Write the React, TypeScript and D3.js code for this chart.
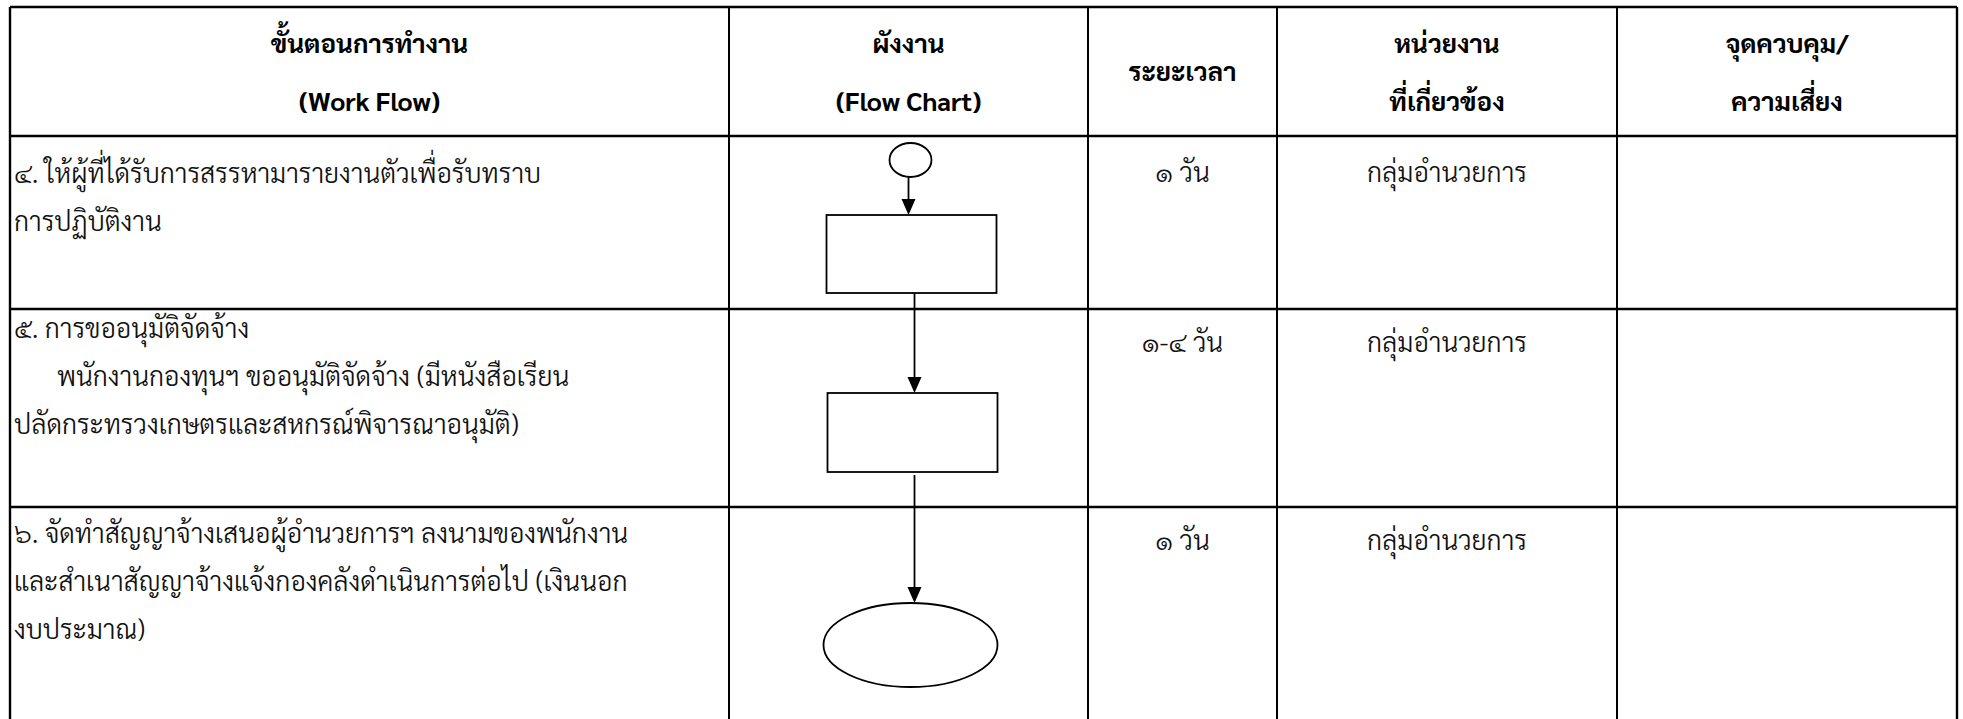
import React from "react";
import * as d3 from "d3";

// ---------- data ----------
const headerLines: string[][] = [
  ["ขั้นตอนการทำงาน", "(Work Flow)"],
  ["ผังงาน", "(Flow Chart)"],
  ["ระยะเวลา"],
  ["หน่วยงาน", "ที่เกี่ยวข้อง"],
  ["จุดควบคุม/", "ความเสี่ยง"],
];
const stepLines: string[][] = [
  ["๔. ให้ผู้ที่ได้รับการสรรหามารายงานตัวเพื่อรับทราบ", "การปฏิบัติงาน"],
  ["๕. การขออนุมัติจัดจ้าง", "พนักงานกองทุนฯ ขออนุมัติจัดจ้าง (มีหนังสือเรียน", "ปลัดกระทรวงเกษตรและสหกรณ์พิจารณาอนุมัติ)"],
  ["๖. จัดทำสัญญาจ้างเสนอผู้อำนวยการฯ ลงนามของพนักงาน", "และสำเนาสัญญาจ้างแจ้งกองคลังดำเนินการต่อไป (เงินนอก", "งบประมาณ)"],
];
const durations: string[] = ["๑ วัน", "๑-๔ วัน", "๑ วัน"];
const units: string[] = ["กลุ่มอำนวยการ", "กลุ่มอำนวยการ", "กลุ่มอำนวยการ"];
const controls: string[] = ["", "", ""];
const shapes: string[] = ["process", "process", "terminal"];

// ---------- layout ----------
const W = 1963;
const H = 719;
const colEdges = [10, 729, 1088, 1277, 1617, 1957];
const rowEdges = [7, 136, 309, 507, 760];
const FONT = "'Sarabun','Noto Sans Thai','Noto Sans Thai UI','Loma','Garuda','Tlwg Typo',sans-serif";

export default function App() {
  const colX = d3.scaleOrdinal<number, number>().domain(d3.range(colEdges.length)).range(colEdges);
  const rowY = d3.scaleOrdinal<number, number>().domain(d3.range(rowEdges.length)).range(rowEdges);
  const colMid = (i: number) => (colX(i) + colX(i + 1)) / 2;

  const fcX = colMid(1);
  const arrowHead = (x: number, yTip: number) =>
    d3.line()([[x - 7, yTip - 16], [x + 7, yTip - 16], [x, yTip]]) + "Z";

  // flowchart geometry (derived from rows)
  const r1 = rowY(1), r2 = rowY(2), r3 = rowY(3);
  const startC = { x: fcX + 2, y: r1 + 24, rx: 21, ry: 17 };
  const box1 = { x: fcX - 82, y: r1 + 79, w: 170, h: 78 };
  const box2 = { x: fcX - 81, y: r2 + 84, w: 170, h: 79 };
  const term = { x: fcX + 2, y: r3 + 138, rx: 87, ry: 42 };
  const lineX = fcX + 6;

  const stepBase = [183, 338, 543];
  const sideBase = [182, 352, 550];
  const lineGap = 48;

  return (
    <svg width={W} height={H} style={{ display: "block", position: "absolute", left: 0, top: 0, background: "#fff" }}>
      <rect x={0} y={0} width={W} height={H} fill="#fff" />
      {/* grid */}
      <g stroke="#000">
        {rowEdges.map((y, i) => (
          <line key={"h" + i} x1={colEdges[0]} x2={colEdges[colEdges.length - 1]} y1={y} y2={y} strokeWidth={2.6} />
        ))}
        {colEdges.map((x, i) => (
          <line key={"v" + i} x1={x} x2={x} y1={rowEdges[0]} y2={H + 5} strokeWidth={i === 0 || i === colEdges.length - 1 ? 2.4 : 2} />
        ))}
      </g>
      {/* headers */}
      <g fontFamily={FONT} fontWeight={700} fontSize={26} fill="#000" textAnchor="middle">
        {headerLines.map((lines, ci) =>
          lines.map((t, li) => (
            <text key={ci + "-" + li} x={colMid(ci)} y={lines.length === 1 ? 81 : 53 + li * 58}>
              {t}
            </text>
          ))
        )}
      </g>
      {/* step texts */}
      <g fontFamily={FONT} fontSize={26.5} fontWeight={300} fill="#111">
        {stepLines.map((lines, ri) =>
          lines.map((t, li) => (
            <text key={ri + "-" + li} x={ri === 1 && li === 1 ? 57 : 14} y={stepBase[ri] + li * lineGap}>
              {t}
            </text>
          ))
        )}
      </g>
      <g fontFamily={FONT} fontSize={26.5} fontWeight={300} fill="#111" textAnchor="middle">
        {durations.map((t, i) => (
          <text key={"d" + i} x={colMid(2)} y={sideBase[i]}>{t}</text>
        ))}
        {units.map((t, i) => (
          <text key={"u" + i} x={colMid(3)} y={sideBase[i]}>{t}</text>
        ))}
        {controls.map((t, i) => (
          <text key={"c" + i} x={colMid(4)} y={sideBase[i]}>{t}</text>
        ))}
      </g>
      {/* flowchart */}
      <g stroke="#000" fill="none" strokeWidth={1.8}>
        <ellipse cx={startC.x} cy={startC.y} rx={startC.rx} ry={startC.ry} fill="#fff" />
        <line x1={fcX} x2={fcX} y1={startC.y + startC.ry} y2={box1.y - 14} />
        <path d={arrowHead(fcX, box1.y)} fill="#000" stroke="none" />
        {shapes[0] === "process" && <rect x={box1.x} y={box1.y} width={box1.w} height={box1.h} fill="#fff" />}
        <line x1={lineX} x2={lineX} y1={box1.y + box1.h} y2={box2.y - 14} />
        <path d={arrowHead(lineX, box2.y)} fill="#000" stroke="none" />
        {shapes[1] === "process" && <rect x={box2.x} y={box2.y} width={box2.w} height={box2.h} fill="#fff" />}
        <line x1={lineX} x2={lineX} y1={box2.y + box2.h + 3} y2={term.y - term.ry - 14} />
        <path d={arrowHead(lineX, term.y - term.ry)} fill="#000" stroke="none" />
        {shapes[2] === "terminal" && <ellipse cx={term.x} cy={term.y} rx={term.rx} ry={term.ry} fill="#fff" />}
      </g>
    </svg>
  );
}
